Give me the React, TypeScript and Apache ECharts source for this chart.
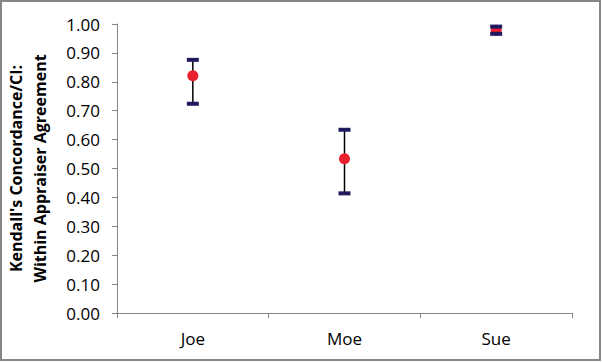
import React, { useEffect, useRef } from "react";
import * as echarts from "echarts";

const categories = ["Joe", "Moe", "Sue"];
const estimates = [0.821, 0.534, 0.978];
const lowerCI = [0.724, 0.414, 0.966];
const upperCI = [0.876, 0.634, 0.991];
const yTitle = "Kendall's Concordance/CI:\nWithin Appraiser Agreement";

export default function App() {
  const ref = useRef<HTMLDivElement>(null);
  useEffect(() => {
    if (!ref.current) return;
    const chart = echarts.init(ref.current, null, { renderer: "svg" });
    const barData = categories.map((_, i) => [i, lowerCI[i], upperCI[i]]);
    const axisColor = "#868686";
    const font = "'Open Sans', 'Liberation Sans', Arial, sans-serif";
    chart.setOption({
      animation: false,
      backgroundColor: "#ffffff",
      graphic: [
        {
          type: "rect",
          shape: { x: 1, y: 1, width: 599, height: 359 },
          style: { fill: "none", stroke: axisColor, lineWidth: 2 },
          silent: true,
          z: 100,
        },
      ],
      grid: {
        left: 117,
        right: 30,
        top: 24,
        bottom: 49,
        containLabel: false,
        outerBoundsMode: "none",
      },
      xAxis: {
        type: "category",
        data: categories,
        boundaryGap: true,
        axisLine: { lineStyle: { color: axisColor, width: 1 } },
        axisTick: { show: true, length: 5, lineStyle: { color: axisColor } },
        axisLabel: { color: "#000", fontSize: 17, fontFamily: font, margin: 17 },
        splitLine: { show: false },
      },
      yAxis: {
        type: "value",
        min: 0,
        max: 1,
        interval: 0.1,
        name: yTitle,
        nameLocation: "middle",
        nameGap: 65,
        nameTextStyle: {
          color: "#000",
          fontSize: 16,
          fontWeight: "bold",
          fontFamily: font,
          lineHeight: 24,
          align: "center",
        },
        axisLine: { show: true, lineStyle: { color: axisColor, width: 1 } },
        axisTick: { show: true, length: 5, lineStyle: { color: axisColor } },
        axisLabel: {
          color: "#000",
          fontSize: 17,
          fontFamily: font,
          margin: 17,
          formatter: (v: number) => v.toFixed(2),
        },
        splitLine: { show: false },
      },
      series: [
        {
          type: "custom",
          z: 2,
          data: barData,
          encode: { x: 0, y: [1, 2] },
          renderItem: (params: any, api: any) => {
            const x = api.value(0);
            const lo = api.coord([x, api.value(1)]);
            const hi = api.coord([x, api.value(2)]);
            return {
              type: "line",
              shape: { x1: lo[0], y1: lo[1], x2: hi[0], y2: hi[1] },
              style: { stroke: "#000", lineWidth: 1.5 },
            };
          },
        },
        {
          type: "scatter",
          z: 3,
          data: categories.map((_, i) => [i, estimates[i]]),
          symbol: "circle",
          symbolSize: 11,
          itemStyle: { color: "#e8202e", opacity: 1 },
        },
        {
          type: "custom",
          z: 4,
          data: barData,
          encode: { x: 0, y: [1, 2] },
          renderItem: (params: any, api: any) => {
            const x = api.value(0);
            const lo = api.coord([x, api.value(1)]);
            const hi = api.coord([x, api.value(2)]);
            const w = 12;
            const h = 4;
            return {
              type: "group",
              children: [
                {
                  type: "rect",
                  shape: { x: lo[0] - w / 2, y: lo[1] - h / 2, width: w, height: h },
                  style: { fill: "#1f1a5e" },
                },
                {
                  type: "rect",
                  shape: { x: hi[0] - w / 2, y: hi[1] - h / 2, width: w, height: h },
                  style: { fill: "#1f1a5e" },
                },
              ],
            };
          },
        },
      ],
    });
    return () => chart.dispose();
  }, []);
  return (
    <div
      ref={ref}
      style={{ position: "absolute", left: 0, top: 0, width: 602, height: 362 }}
    />
  );
}
